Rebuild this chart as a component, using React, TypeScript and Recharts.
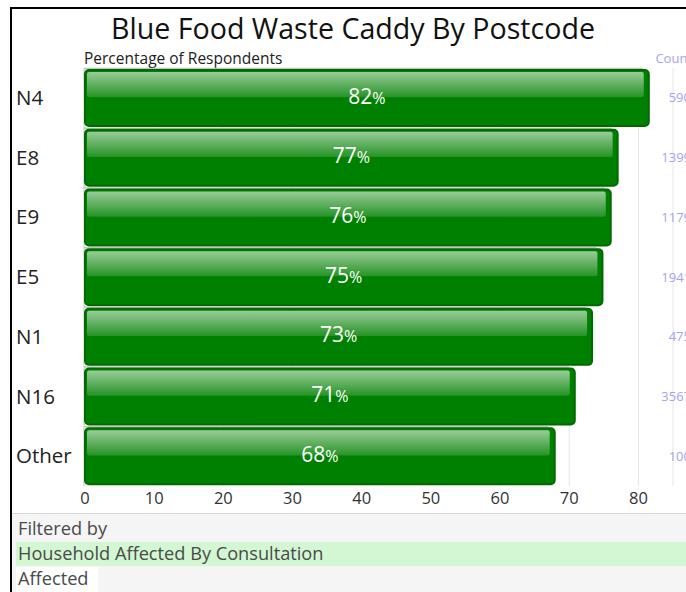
import { Bar, BarChart, CartesianGrid, LabelList, XAxis, YAxis } from "recharts";

const postcodes = ["N4", "E8", "E9", "E5", "N1", "N16", "Other"];
const percentages = [81.5, 77, 76, 74.8, 73.3, 70.8, 67.9];
const counts = [590, 1399, 1179, 1941, 475, 3567, 100];
const xTicks = [0, 10, 20, 30, 40, 50, 60, 70, 80];

const filterTitle = "Filtered by";
const filterField = "Household Affected By Consultation";
const filterValue = "Affected";

const FONT = "'Open Sans', 'Noto Sans', sans-serif";

const data = postcodes.map((name, i) => ({ name, pct: percentages[i], count: counts[i] }));

function GlossyBar(props: any) {
    const { x, y, width, height } = props;
    if (!width || width <= 0) return null;
    const hl = height * 0.45;
    return (
        <g>
            <line x1={x - 1} x2={x + width - 6} y1={y - 1.5} y2={y - 1.5} stroke="#c4c4c4" strokeWidth={1.5} />
            <line x1={x - 1} x2={x - 1} y1={y - 2} y2={y + height + 2} stroke="#c4c4c4" strokeWidth={1} />
            <rect x={x} y={y} width={width} height={height} rx={4} fill="#008000" stroke="#006a00" strokeWidth={2} />
            <rect x={x + 2} y={y + 2} width={width - 7} height={hl} rx={2} fill="url(#gloss)" />
        </g>
    );
}

function PctLabel(props: any) {
    const { x, y, width, height, value } = props;
    return (
        <text x={x + width / 2} y={y + height / 2} dy="0.35em" textAnchor="middle" fill="#fff" fontFamily={FONT}>
            <tspan fontSize={21}>{Math.round(value)}</tspan>
            <tspan fontSize={16}>%</tspan>
        </text>
    );
}

function NameTick(props: any) {
    const { y, payload } = props;
    return (
        <text x={16} y={y} dy="0.35em" textAnchor="start" fill="#222" fontSize={20.5} fontFamily={FONT}>
            {payload.value}
        </text>
    );
}

function CountTick(props: any) {
    const { y, index } = props;
    return (
        <text x={691} y={y} dy="0.35em" textAnchor="end" fill="#a3a3f5" fontSize={13} fontFamily={FONT}>
            {counts[index]}
        </text>
    );
}

export default function App() {
    return (
        <div style={{ position: "fixed", left: 0, top: 0, width: 686, height: 592, overflow: "hidden", background: "#fff", fontFamily: FONT }}>
            <div style={{ position: "absolute", left: 10, top: 7, width: 720, height: 620, border: "2px solid #000", boxSizing: "border-box" }} />
            <div style={{ position: "absolute", left: 12, top: 9, width: 682, textAlign: "center", fontSize: 28.6, lineHeight: "38px", color: "#111" }}>
                Blue Food Waste Caddy By Postcode
            </div>
            <div style={{ position: "absolute", left: 84, top: 48, fontSize: 15.5, lineHeight: "20px", color: "#222" }}>
                Percentage of Respondents
            </div>
            <div style={{ position: "absolute", right: -6, top: 49, fontSize: 13, lineHeight: "18px", color: "#a3a3f5" }}>
                Count
            </div>
            <div style={{ position: "absolute", left: 0, top: 0 }}>
                <BarChart
                    width={700}
                    height={515}
                    data={data}
                    layout="vertical"
                    margin={{ top: 68, right: 0, left: 0, bottom: 0 }}
                >
                    <defs>
                        <linearGradient id="gloss" x1="0" y1="0" x2="0" y2="1">
                            <stop offset="0%" stopColor="#ffffff" stopOpacity={0.6} />
                            <stop offset="100%" stopColor="#ffffff" stopOpacity={0.15} />
                        </linearGradient>
                    </defs>
                    <CartesianGrid horizontal={false} stroke="#e6e6e6" />
                    <XAxis
                        type="number"
                        domain={[0, 85]}
                        ticks={xTicks}
                        height={29}
                        tickLine={false}
                        axisLine={false}
                        tickSize={4}
                        tick={{ fill: "#333", fontSize: 16.5, fontFamily: FONT }}
                    />
                    <YAxis yAxisId="left" type="category" dataKey="name" width={85} tick={<NameTick />} tickLine={false} axisLine={false} />
                    <YAxis yAxisId="right" orientation="right" type="category" dataKey="name" width={27} tick={<CountTick />} tickLine={false} axisLine={false} />
                    <Bar yAxisId="left" dataKey="pct" barSize={56} shape={<GlossyBar />} isAnimationActive={false}>
                        <LabelList dataKey="pct" content={<PctLabel />} />
                    </Bar>
                </BarChart>
            </div>
            <div style={{ position: "absolute", left: 12, top: 513, width: 680, height: 80, background: "#f5f5f5", borderTop: "1px solid #d8d8d8" }} />
            <div style={{ position: "absolute", left: 18, top: 516, fontSize: 18.2, lineHeight: "24px", color: "#4a4a4a" }}>{filterTitle}</div>
            <div style={{ position: "absolute", left: 16, top: 542, width: 680, height: 24, background: "#d2f7d2" }} />
            <div style={{ position: "absolute", left: 18, top: 541, fontSize: 18.2, lineHeight: "24px", color: "#4a4a4a" }}>{filterField}</div>
            <div style={{ position: "absolute", left: 16, top: 567, width: 82, height: 26, background: "#fff" }} />
            <div style={{ position: "absolute", left: 18, top: 566, fontSize: 18.2, lineHeight: "24px", color: "#4a4a4a" }}>{filterValue}</div>
        </div>
    );
}
